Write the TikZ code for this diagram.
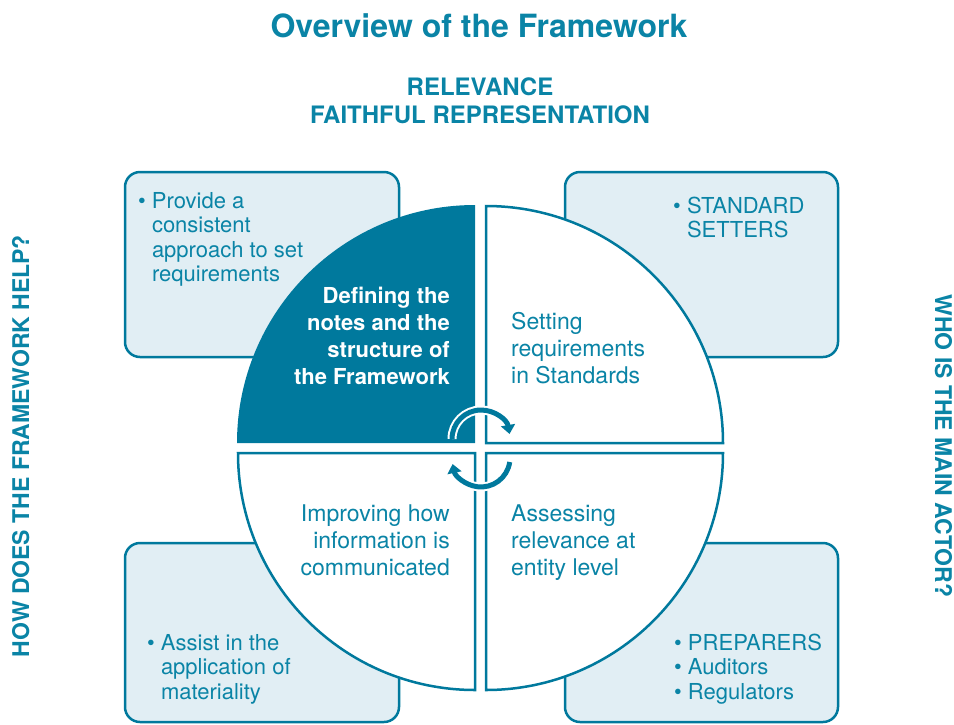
\documentclass[tikz,border=0pt]{standalone}
\usepackage{fontspec}
\setmainfont{TeX Gyre Heros}
\usetikzlibrary{arrows.meta}
\definecolor{fwteal}{RGB}{0,121,157}
\definecolor{fwtext}{RGB}{10,132,166}
\definecolor{fwpale}{RGB}{225,238,244}

\begin{document}
\begin{tikzpicture}[
  x=1pt, y=1pt,
  infobox/.style={draw=fwteal,fill=fwpale,line width=2.5pt,rounded corners=15pt,inner sep=0pt},
  quadpie/.style={draw=fwteal,fill=white,line width=2.5pt},
  infotext/.style={text=fwtext,align=left,inner sep=0pt,font=\fontsize{22}{24.5}\selectfont},
  quadtext/.style={inner sep=0pt,font=\fontsize{23}{27}\selectfont},
  headtext/.style={text=fwtext,inner sep=0pt,font=\bfseries\fontsize{23}{28}\selectfont},
  cycborder/.style={line width=9pt,white,-{Triangle[length=12pt,width=19pt]}},
  cycarrow/.style={line width=5pt,fwteal,-{Triangle[length=9pt,width=14pt]}}
]
\useasboundingbox (0,0) rectangle (954,-724);

\node[headtext, font=\bfseries\fontsize{32}{38}\selectfont, anchor=base] (title) at (479,-37) {Overview of the Framework};
\node[headtext, font=\bfseries\fontsize{24}{28}\selectfont, align=center, anchor=base] (qualities) at (480,-123) {RELEVANCE\\FAITHFUL REPRESENTATION};
\node[headtext, rotate=90, anchor=base] (helpq) at (29,-446) {HOW DOES THE FRAMEWORK HELP?};
\node[headtext, rotate=-90, anchor=base] (actorq) at (935,-446) {WHO IS THE MAIN ACTOR?};

% the four boxes behind the circle
\node[infobox, minimum width=274pt, minimum height=185pt] (boxtl) at (262,-264.5) {};
\node[infobox, minimum width=273pt, minimum height=185pt] (boxtr) at (701.5,-264.5) {};
\node[infobox, minimum width=274pt, minimum height=179pt] (boxbl) at (262,-632.5) {};
\node[infobox, minimum width=273pt, minimum height=179pt] (boxbr) at (701.5,-632.5) {};

% quadrants
\coordinate (ctl) at (475,-443);
\coordinate (ctr) at (486,-443);
\coordinate (cbl) at (475,-453);
\coordinate (cbr) at (486,-453);
\fill[fwteal] (ctl) -- ++(-238,0) arc[start angle=180,end angle=90,radius=238] -- cycle;
\draw[quadpie] (ctr) -- ++(0,237) arc[start angle=90,end angle=0,radius=237] -- cycle;
\draw[quadpie] (cbl) -- ++(-237,0) arc[start angle=180,end angle=270,radius=237] -- cycle;
\draw[quadpie] (cbr) -- ++(237,0) arc[start angle=0,end angle=-90,radius=237] -- cycle;

% turning arrows
\coordinate (cyctop) at (452,-439);
\coordinate (cycbot) at (509.7,-462);
\draw[cycborder] (cyctop) arc[start angle=180,end angle=10,radius=29];
\draw[cycarrow] (cyctop) arc[start angle=180,end angle=10,radius=29];
\draw[cycborder] (cycbot) arc[start angle=-8,end angle=-168,radius=29];
\draw[cycarrow] (cycbot) arc[start angle=-8,end angle=-168,radius=29];

\node[quadtext, text=white, font=\bfseries\fontsize{22}{27}\selectfont, align=right, anchor=base east] (define) at (450,-384) {Defining the\\notes and the\\structure of\\the Framework};
\node[quadtext, text=fwtext, align=left, anchor=base west] (setting) at (511,-383) {Setting\\requirements\\in Standards};
\node[quadtext, text=fwtext, align=right, anchor=base east] (improve) at (450,-575) {Improving how\\information is\\communicated};
\node[quadtext, text=fwtext, align=left, anchor=base west] (assess) at (511,-575) {Assessing\\relevance at\\entity level};

\node[infotext, anchor=base west] (helptl) at (138,-281.5) {\textbullet\ Provide a\\\hphantom{\textbullet\ }consistent\\\hphantom{\textbullet\ }approach to set\\\hphantom{\textbullet\ }requirements};
\node[infotext, anchor=base west] (actortr) at (673,-237.5) {\textbullet\ STANDARD\\\hphantom{\textbullet\ }SETTERS};
\node[infotext, anchor=base west] (helpbl) at (147,-699) {\textbullet\ Assist in the\\\hphantom{\textbullet\ }application of\\\hphantom{\textbullet\ }materiality};
\node[infotext, anchor=base west] (actorbr) at (674,-699) {\textbullet\ PREPARERS\\\textbullet\ Auditors\\\textbullet\ Regulators};

\end{tikzpicture}
\end{document}
